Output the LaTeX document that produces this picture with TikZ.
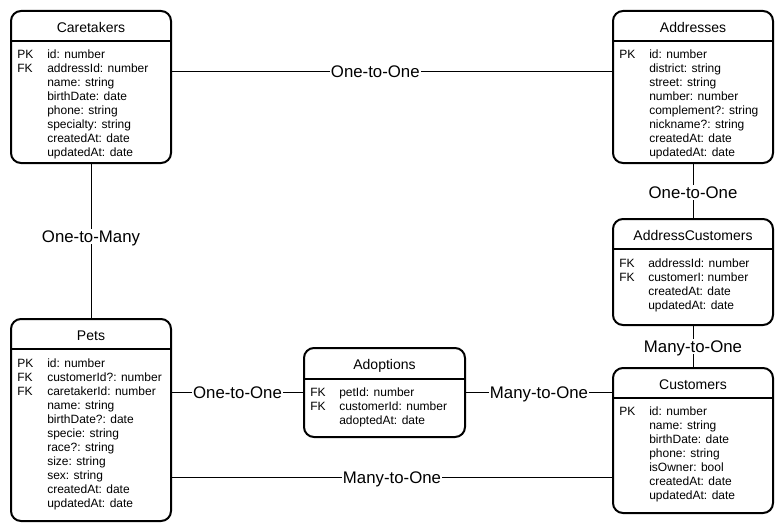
\documentclass[tikz,border=0pt]{standalone}
\usepackage{fontspec}
\setmainfont{Liberation Sans}
\tikzset{
  tbl/.style={draw, line width=1.5pt, rounded corners=7.5pt, minimum width=120pt, inner sep=0pt},
  ttl/.style={inner sep=0pt, text height=7.5pt, text depth=0pt, font=\fontsize{10.5}{12}\selectfont},
  sep/.style={line width=1.2pt},
  key/.style={anchor=west, inner sep=0pt, text height=6.5pt, text depth=0pt, font=\fontsize{9}{10.5}\selectfont},
  rel/.style={line width=0.75pt},
  lbl/.style={fill=white, inner sep=1pt, text height=9pt, text depth=0pt, font=\fontsize{12.6}{14}\selectfont}
}
\begin{document}
\begin{tikzpicture}[x=0.75pt, y=-0.75pt]
  \useasboundingbox (0, 0) rectangle (784, 531);

  % Caretakers
  \node[tbl, minimum height=114pt] (care) at (91, 87) {};
  \node[ttl] (careT) at (91, 27.5) {Caretakers};
  \draw[sep] (care.west |- 0, 41) -- (care.east |- 0, 41);
  \foreach \k/\f [count=\i] in {PK/id: number, FK/addressId: number, /name: string, /birthDate: date,
      /phone: string, /specialty: string, /createdAt: date, /updatedAt: date} {
    \node[key] (care-k\i) at (17, 40 + 14*\i) {\k};
    \node[key] (care-f\i) at (47, 40 + 14*\i) {\f};
  }

  % Addresses
  \node[tbl, minimum height=114pt] (addr) at (693, 87) {};
  \node[ttl] (addrT) at (693, 27.5) {Addresses};
  \draw[sep] (addr.west |- 0, 41) -- (addr.east |- 0, 41);
  \foreach \k/\f [count=\i] in {PK/id: number, /district: string, /street: string, /number: number,
      /complement?: string, /nickname?: string, /createdAt: date, /updatedAt: date} {
    \node[key] (addr-k\i) at (619, 40 + 14*\i) {\k};
    \node[key] (addr-f\i) at (649, 40 + 14*\i) {\f};
  }

  % AddressCustomers
  \node[tbl, minimum height=79.5pt] (addrcust) at (693, 272) {};
  \node[ttl] (addrcustT) at (693, 235.5) {AddressCustomers};
  \draw[sep] (addrcust.west |- 0, 249) -- (addrcust.east |- 0, 249);
  \foreach \k/\f [count=\i] in {FK/addressId: number, FK/customerI: number, /createdAt: date, /updatedAt: date} {
    \node[key] (addrcust-k\i) at (619, 249 + 14*\i) {\k};
    \node[key] (addrcust-f\i) at (648, 249 + 14*\i) {\f};
  }

  % Customers
  \node[tbl, minimum height=108.75pt] (cust) at (693, 440.5) {};
  \node[ttl] (custT) at (693, 384.5) {Customers};
  \draw[sep] (cust.west |- 0, 398) -- (cust.east |- 0, 398);
  \foreach \k/\f [count=\i] in {PK/id: number, /name: string, /birthDate: date, /phone: string,
      /isOwner: bool, /createdAt: date, /updatedAt: date} {
    \node[key] (cust-k\i) at (619, 397 + 14*\i) {\k};
    \node[key] (cust-f\i) at (649, 397 + 14*\i) {\f};
  }

  % Pets
  \node[tbl, minimum height=151.5pt] (pets) at (91, 420) {};
  \node[ttl] (petsT) at (91, 335.5) {Pets};
  \draw[sep] (pets.west |- 0, 349) -- (pets.east |- 0, 349);
  \foreach \k/\f [count=\i] in {PK/id: number, FK/customerId?: number, FK/caretakerId: number,
      /name: string, /birthDate?: date, /specie: string, /race?: string, /size: string,
      /sex: string, /createdAt: date, /updatedAt: date} {
    \node[key] (pets-k\i) at (17, 349 + 14*\i) {\k};
    \node[key] (pets-f\i) at (47, 349 + 14*\i) {\f};
  }

  % Adoptions
  \node[tbl, minimum width=120.75pt, minimum height=66.75pt] (adopt) at (384.5, 392.5) {};
  \node[ttl] (adoptT) at (384.5, 364.5) {Adoptions};
  \draw[sep] (adopt.west |- 0, 379) -- (adopt.east |- 0, 379);
  \foreach \k/\f [count=\i] in {FK/petId: number, FK/customerId: number, /adoptedAt: date} {
    \node[key] (adopt-k\i) at (310, 378 + 14*\i) {\k};
    \node[key] (adopt-f\i) at (339, 378 + 14*\i) {\f};
  }

  % relations
  \draw[rel] (care.east |- 0, 72) -- node[lbl, pos=0.462] {One-to-One} (addr.west |- 0, 72);
  \draw[rel] (care.south) -- node[lbl, pos=0.47] {One-to-Many} (pets.north);
  \draw[rel] (addr.south) -- node[lbl, pos=0.53] {One-to-One} (addrcust.north);
  \draw[rel] (addrcust.south) -- node[lbl] {Many-to-One} (cust.north);
  \draw[rel] (pets.east |- 0, 392) -- node[lbl] {One-to-One} (adopt.west |- 0, 392);
  \draw[rel] (adopt.east |- 0, 392) -- node[lbl] {Many-to-One} (cust.west |- 0, 392);
  \draw[rel] (pets.east |- 0, 477) -- node[lbl] {Many-to-One} (cust.west |- 0, 477);
\end{tikzpicture}
\end{document}
